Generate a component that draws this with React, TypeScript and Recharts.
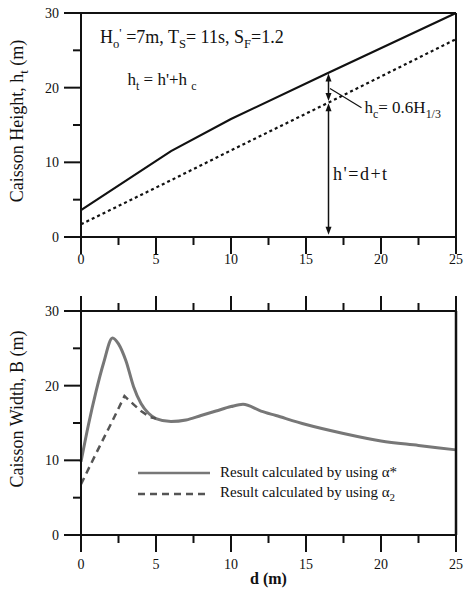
import React from "react";
import { LineChart, Line, XAxis, YAxis, ReferenceLine, ReferenceDot, Legend } from "recharts";

// top panel: caisson height vs depth
const heightD = [0, 6, 10, 16.5, 25];
const heightTotal = [3.6, 11.5, 15.8, 22.0, 30.0];
const heightPrime = [1.7, 7.6, 11.6, 18.0, 26.5];

// bottom panel: caisson width vs depth
const widthD = [0, 0.5, 1, 1.5, 2.1, 2.5, 3, 3.5, 4, 4.5, 5, 6, 7, 8, 9, 10, 10.8, 12, 13, 15, 17.5, 20, 22.5, 25];
const widthAlphaStar = [9.8, 14.8, 19.2, 23.0, 26.4, 25.6, 23.3, 19.9, 17.6, 16.3, 15.6, 15.2, 15.4, 16.0, 16.6, 17.2, 17.5, 16.6, 16.0, 14.8, 13.6, 12.6, 12.0, 11.4];
const alpha2D = [0, 1, 2, 2.9, 3.5, 4, 4.6, 5];
const widthAlpha2 = [6.8, 10.9, 14.9, 18.6, 17.5, 16.6, 15.8, 15.6];

const xTicks = [0, 2.5, 5, 7.5, 10, 12.5, 15, 17.5, 20, 22.5, 25];
const yTicks = [0, 5, 10, 15, 20, 25, 30];

const heightData = heightD.map((d, i) => ({ d, ht: heightTotal[i], hp: heightPrime[i] }));
const alphaStarData = widthD.map((d, i) => ({ d, bStar: widthAlphaStar[i] }));
const alpha2Data = alpha2D.map((d, i) => ({ d, b2: widthAlpha2[i] }));

const INK = "#111";
const FONT = "'Liberation Serif', 'Times New Roman', serif";
const MINOR = 8; // native tick length, majors get extended by the custom tick
const tickStroke = { stroke: INK, strokeWidth: 2 };

type Run = [string, "n" | "sub" | "sup"];

// text with sub/superscripts built from runs
function RichText({ x, y, runs, size, anchor = "start", transform, spacing = 0 }: any) {
  let level = 0;
  return (
    <text x={x} y={y} fontSize={size} textAnchor={anchor} transform={transform} fill={INK} fontFamily={FONT} letterSpacing={spacing}>
      {runs.map(([t, k]: Run, i: number) => {
        const target = k === "sub" ? size * 0.3 : k === "sup" ? -size * 0.35 : 0;
        const dy = target - level;
        level = target;
        return (
          <tspan key={i} dy={dy} fontSize={k === "n" ? size : size * 0.7}>
            {t}
          </tspan>
        );
      })}
    </text>
  );
}

function XTick({ x, y, payload, side, labelOffset }: any) {
  const v = payload.value;
  const major = v % 5 === 0;
  const top = side === "top";
  return (
    <g>
      {major ? <rect x={x - 1} y={top ? y - 9 : y} width={2} height={9} fill={INK} /> : null}
      {major && labelOffset ? (
        <text x={x} y={y + labelOffset - MINOR} textAnchor="middle" fontSize={14} fill={INK} fontFamily={FONT}>
          {v}
        </text>
      ) : null}
    </g>
  );
}

function YTick({ x, y, payload }: any) {
  const v = payload.value;
  const major = v % 10 === 0;
  return (
    <g>
      {major ? <rect x={x - 9} y={y - 1} width={9} height={2} fill={INK} /> : null}
      {major ? (
        <text x={x - 14} y={y + 5} textAnchor="end" fontSize={14} fill={INK} fontFamily={FONT}>
          {v}
        </text>
      ) : null}
    </g>
  );
}

function axisTitle(runs: Run[], shift: number) {
  return (props: any) => {
    const vb = props.viewBox;
    const cx = vb.x + 17;
    const cy = vb.y + vb.height / 2 + shift;
    return <RichText x={0} y={6} runs={runs} size={18} anchor="middle" transform={`translate(${cx},${cy}) rotate(-90)`} />;
  };
}

function head(x: number, y: number, dir: number, key: string) {
  // dir 1: tip pointing down, -1: tip pointing up
  return <polygon key={key} points={`${x},${y} ${x - 3},${y - dir * 8} ${x + 3},${y - dir * 8}`} fill={INK} />;
}

function DoubleArrow(props: any) {
  const { x1, y1, x2, y2 } = props;
  const bottom = Math.max(y1, y2);
  const top = Math.min(y1, y2);
  return (
    <g>
      <line x1={x1} y1={bottom - 4} x2={x2} y2={top + 4} stroke={INK} strokeWidth={1.5} />
      {head(x1, bottom, 1, "b")}
      {head(x1, top, -1, "t")}
    </g>
  );
}

function note(runs: Run[], size: number, spacing = 0) {
  return (p: any) => <RichText x={p.cx} y={p.cy} runs={runs} size={size} spacing={spacing} />;
}

function LegendBox(props: any) {
  const items = props.payload || [];
  return (
    <div style={{ fontFamily: FONT, fontSize: 15, color: INK }}>
      {items.map((it: any, i: number) => {
        const name = String(it.value);
        const [main, sub] = name.split("_");
        const dash = it.payload?.strokeDasharray;
        return (
          <div key={i} style={{ display: "flex", alignItems: "center", height: 21 }}>
            <svg width={72} height={10}>
              <line x1={0} y1={5} x2={72} y2={5} stroke={it.color} strokeWidth={2.5} strokeDasharray={dash} />
            </svg>
            <span style={{ marginLeft: 10, whiteSpace: "nowrap" }}>
              {main}
              {sub ? <sub style={{ fontSize: 11 }}>{sub}</sub> : null}
            </span>
          </div>
        );
      })}
    </div>
  );
}

export default function App() {
  return (
    <div style={{ position: "absolute", top: 0, left: 0, width: 464, height: 592, background: "#fff", fontFamily: FONT }}>
      <LineChart width={464} height={296} data={heightData} margin={{ top: 12, right: 7, bottom: 0, left: 0 }}>
        <XAxis
          dataKey="d"
          type="number"
          domain={[0, 25]}
          ticks={xTicks}
          interval={0}
          height={59}
          tickLine={tickStroke}
          tickSize={MINOR}
          tickMargin={0}
          axisLine={{ stroke: INK, strokeWidth: 2 }}
          tick={<XTick side="bottom" labelOffset={27} />}
        />
        <XAxis xAxisId="top" orientation="top" dataKey="d" type="number" domain={[0, 25]} height={1} tick={false} tickLine={false} axisLine={{ stroke: INK, strokeWidth: 2 }} />
        <YAxis
          type="number"
          domain={[0, 30]}
          ticks={yTicks}
          interval={0}
          width={81}
          tickLine={tickStroke}
          tickSize={MINOR}
          tickMargin={0}
          axisLine={{ stroke: INK, strokeWidth: 2 }}
          tick={<YTick />}
          label={axisTitle([["Caisson Height, h", "n"], ["t", "sub"], [" (m)", "n"]], -4)}
        />
        <YAxis yAxisId="right" orientation="right" type="number" domain={[0, 30]} width={1} tick={false} tickLine={false} axisLine={{ stroke: INK, strokeWidth: 2 }} />
        <Line dataKey="ht" stroke={INK} strokeWidth={2.2} dot={false} isAnimationActive={false} />
        <Line dataKey="hp" xAxisId="top" yAxisId="right" stroke={INK} strokeWidth={2.2} strokeDasharray="3 3" dot={false} isAnimationActive={false} />
        <ReferenceLine segment={[{ x: 16.5, y: 0.3 }, { x: 16.5, y: 17.9 }]} shape={DoubleArrow} />
        <ReferenceLine segment={[{ x: 16.5, y: 18.2 }, { x: 16.5, y: 21.9 }]} shape={DoubleArrow} />
        <ReferenceLine segment={[{ x: 16.6, y: 19.9 }, { x: 18.7, y: 17.3 }]} stroke={INK} strokeWidth={1.2} />
        <ReferenceDot
          x={1.27}
          y={26.0}
          r={0}
          shape={note(
            [
              ["H", "n"],
              ["o", "sub"],
              ["'", "sup"],
              [" =7m, T", "n"],
              ["S", "sub"],
              ["= 11s, S", "n"],
              ["F", "sub"],
              ["=1.2", "n"],
            ],
            18
          )}
        />
        <ReferenceDot
          x={3.1}
          y={20.4}
          r={0}
          shape={note(
            [
              ["h", "n"],
              ["t", "sub"],
              [" = h'+h ", "n"],
              ["c", "sub"],
            ],
            17
          )}
        />
        <ReferenceDot
          x={18.9}
          y={16.6}
          r={0}
          shape={note(
            [
              ["h", "n"],
              ["c", "sub"],
              ["= 0.6H", "n"],
              ["1/3", "sub"],
            ],
            17
          )}
        />
        <ReferenceDot x={16.8} y={7.7} r={0} shape={note([["h'=d+t", "n"]], 18, 1.5)} />
      </LineChart>
      <LineChart width={464} height={296} margin={{ top: 14, right: 7, bottom: 0, left: 0 }}>
        <XAxis
          dataKey="d"
          type="number"
          domain={[0, 25]}
          ticks={xTicks}
          interval={0}
          height={57}
          tickLine={tickStroke}
          tickSize={MINOR}
          tickMargin={0}
          axisLine={{ stroke: INK, strokeWidth: 2 }}
          tick={<XTick side="bottom" labelOffset={34} />}
          label={(p: any) => (
            <text x={p.viewBox.x + p.viewBox.width / 2} y={p.viewBox.y + 49} textAnchor="middle" fontSize={16} fontWeight="bold" fill={INK} fontFamily={FONT}>
              d (m)
            </text>
          )}
        />
        <XAxis
          xAxisId="top"
          orientation="top"
          dataKey="d"
          type="number"
          domain={[0, 25]}
          ticks={xTicks}
          interval={0}
          height={1}
          tickLine={tickStroke}
          tickSize={MINOR}
          tickMargin={0}
          axisLine={{ stroke: INK, strokeWidth: 2 }}
          tick={<XTick side="top" />}
        />
        <YAxis
          type="number"
          domain={[0, 30]}
          ticks={yTicks}
          interval={0}
          width={81}
          tickLine={tickStroke}
          tickSize={MINOR}
          tickMargin={0}
          axisLine={{ stroke: INK, strokeWidth: 2 }}
          tick={<YTick />}
          label={axisTitle([["Caisson Width, B (m)", "n"]], -14)}
        />
        <YAxis yAxisId="right" orientation="right" type="number" domain={[0, 30]} width={1} tick={false} tickLine={false} axisLine={{ stroke: INK, strokeWidth: 2.5 }} />
        <Legend layout="vertical" align="center" verticalAlign="middle" content={LegendBox} wrapperStyle={{ left: 138, top: 166, width: 320 }} />
        <Line data={alphaStarData} dataKey="bStar" name="Result calculated by using α*" type="monotone" stroke="#777" strokeWidth={3} dot={false} isAnimationActive={false} />
        <Line data={alpha2Data} dataKey="b2" xAxisId="top" yAxisId="right" name="Result calculated by using α_2" stroke="#555" strokeWidth={2.5} strokeDasharray="7 5" dot={false} isAnimationActive={false} />
      </LineChart>
    </div>
  );
}
